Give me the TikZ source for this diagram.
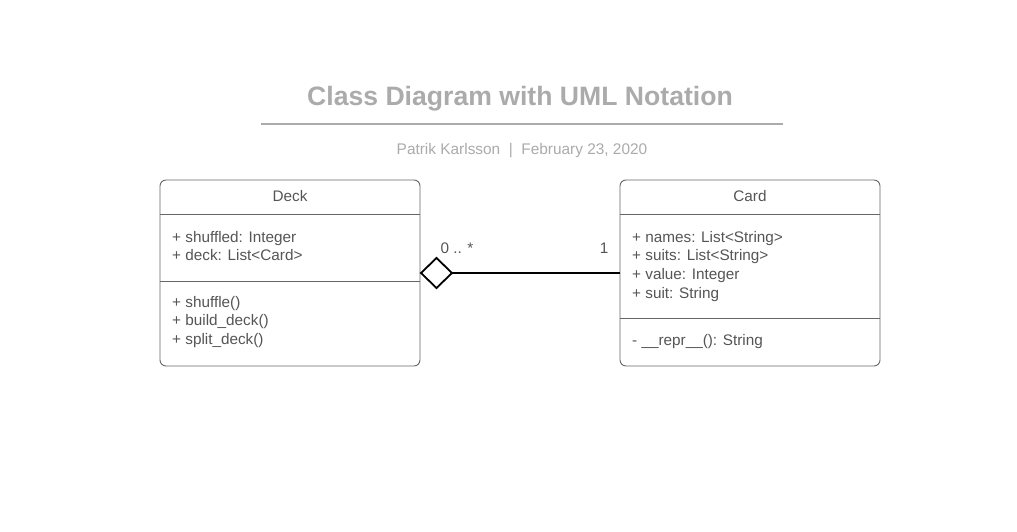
\documentclass[tikz,border=0pt]{standalone}
\usepackage{fontspec}
\setmainfont{Liberation Sans}
\usetikzlibrary{positioning}
\definecolor{txt}{HTML}{555555}
\definecolor{ttl}{HTML}{ABABAB}
\definecolor{brd}{HTML}{666666}
\tikzset{
  x=1pt,y=-1pt,
  cls/.style={draw=brd,line width=0.9pt,rounded corners=6pt},
  sep/.style={draw=brd,line width=0.9pt},
  lbl/.style={text=txt,font=\fontsize{15.3}{18.6}\selectfont,inner sep=0pt},
  multi/.style={lbl,anchor=north west,align=left},
}
\begin{document}
\begin{tikzpicture}
\useasboundingbox[fill=white] (0,0) rectangle (1017,532);
\node[text=ttl,font=\fontsize{26.6}{30}\selectfont\bfseries,inner sep=0pt] (title) at (520,99) {Class Diagram with UML Notation};
\coordinate (r1) at (261,124);
\coordinate (r2) at (783,124);
\draw[ttl,line width=1.6pt] (r1) -- (r2);
\node[text=ttl,font=\fontsize{15.4}{18}\selectfont,inner sep=0pt] (sub) at (522,151) {Patrik Karlsson\ \ |\ \ February 23, 2020};
% Deck
\draw[cls] (160,180) rectangle (420,366);
\coordinate (dl1) at (160,214); \coordinate (dr1) at (420,214);
\coordinate (dl2) at (160,281); \coordinate (dr2) at (420,281);
\draw[sep] (dl1) -- (dr1) (dl2) -- (dr2);
\node[lbl] (deckname) at (290,196) {Deck};
\node[multi] (deckattr) at (172,231) {+ shuffled: Integer\\+ deck: List<Card>};
\node[multi] (deckmeth) at (172,296) {+ shuffle()\\+ build\_deck()\\+ split\_deck()};
% Card
\draw[cls] (620,180) rectangle (880,366);
\coordinate (cl1) at (620,214); \coordinate (cr1) at (880,214);
\coordinate (cl2) at (620,318); \coordinate (cr2) at (880,318);
\draw[sep] (cl1) -- (cr1) (cl2) -- (cr2);
\node[lbl] (cardname) at (750,196) {Card};
\node[multi] (cardattr) at (632,231) {+ names: List<String>\\+ suits: List<String>\\+ value: Integer\\+ suit: String};
\node[multi] (cardmeth) at (632,334) {- \_\_repr\_\_(): String};
% association
\coordinate (dA) at (421,273);
\coordinate (dB) at (436.5,258);
\coordinate (dC) at (452,273);
\coordinate (dD) at (436.5,288);
\coordinate (cA) at (620,273);
\draw[black,line width=1.8pt,line join=miter] (dA) -- (dB) -- (dC) -- (dD) -- cycle;
\draw[black,line width=1.8pt] (dC) -- (cA);
\node[lbl] (m1) at (457,248) {0 .. *};
\node[lbl] (m2) at (604,248) {1};
\end{tikzpicture}
\end{document}
